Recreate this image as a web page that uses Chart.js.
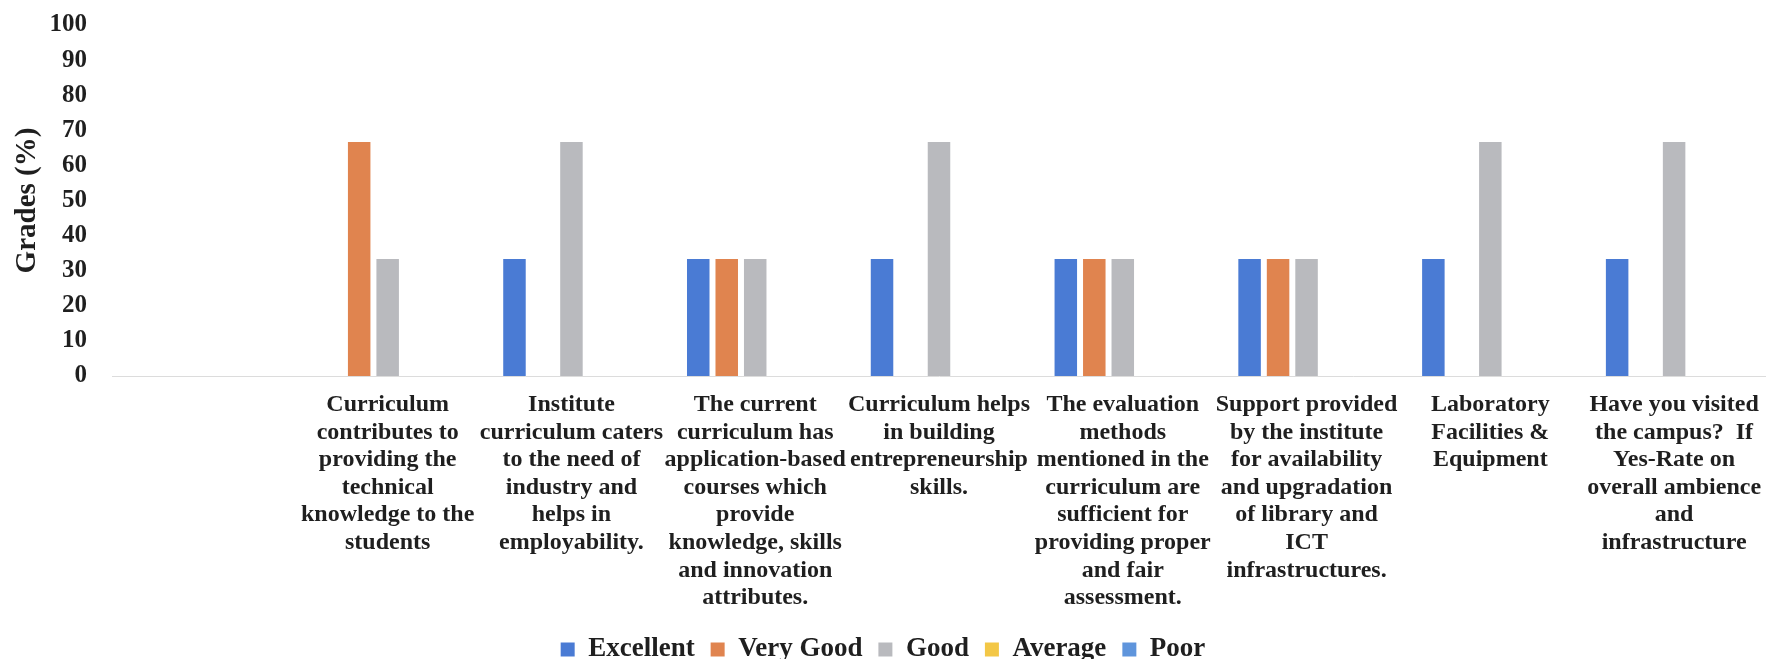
<!DOCTYPE html>
<html>
<head>
<meta charset="utf-8">
<script src="https://cdn.jsdelivr.net/npm/chart.js@4"></script>
<style>
  html, body { margin: 0; padding: 0; background: #fff; overflow: hidden; }
  #wrap { width: 1766px; height: 659px; }
</style>
</head>
<body>
<div id="wrap"><canvas id="gradesChart"></canvas></div>
<script>
// categories (first slot is empty in the original)
const categories = [
    [''],
    ['Curriculum', 'contributes to', 'providing the', 'technical', 'knowledge to the', 'students'],
    ['Institute', 'curriculum caters', 'to the need of', 'industry and', 'helps in', 'employability.'],
    ['The current', 'curriculum has', 'application-based', 'courses which', 'provide', 'knowledge, skills', 'and innovation', 'attributes.'],
    ['Curriculum helps', 'in building', 'entrepreneurship', 'skills.'],
    ['The evaluation', 'methods', 'mentioned in the', 'curriculum are', 'sufficient for', 'providing proper', 'and fair', 'assessment.'],
    ['Support provided', 'by the institute', 'for availability', 'and upgradation', 'of library and', 'ICT', 'infrastructures.'],
    ['Laboratory', 'Facilities &', 'Equipment'],
    ['Have you visited', 'the campus?  If', 'Yes-Rate on', 'overall ambience', 'and', 'infrastructure']
];

const excellent = [null, null, 33.33, 33.33, 33.33, 33.33, 33.33, 33.33, 33.33];
const veryGood  = [null, 66.67, null, 33.33, null, 33.33, 33.33, null, null];
const good      = [null, 33.33, 66.67, 33.33, 66.67, 33.33, 33.33, 66.67, 66.67];
const average   = [null, null, null, null, null, null, null, null, null];
const poor      = [null, null, null, null, null, null, null, null, null];

const yTicks = [0, 10, 20, 30, 40, 50, 60, 70, 80, 90, 100];

const serif = "'Liberation Serif', 'Times New Roman', serif";
const textColor = '#1f1f1f';

const ctx = document.getElementById('gradesChart').getContext('2d');
const gradesChart = new Chart(ctx, {
    type: 'bar',
    data: {
        labels: categories,
        datasets: [
            { label: 'Excellent', data: excellent, backgroundColor: '#4a7bd4' },
            { label: 'Very Good', data: veryGood, backgroundColor: '#e0844f' },
            { label: 'Good', data: good, backgroundColor: '#b9babe' },
            { label: 'Average', data: average, backgroundColor: '#f3c746' },
            { label: 'Poor', data: poor, backgroundColor: '#5f95dc' }
        ]
    },
    options: {
        responsive: true,
        maintainAspectRatio: false,
        animation: false,
        datasets: {
            bar: {
                categoryPercentage: 0.775,
                barPercentage: 0.79
            }
        },
        layout: {
            padding: { top: 25, right: 0, bottom: -14, left: 0 }
        },
        scales: {
            x: {
                afterFit: function(scale) {
                    scale.height = 244;
                    scale.paddingLeft = 0;
                    scale.paddingRight = 0;
                },
                grid: { display: false, drawTicks: false },
                border: { display: true, color: '#dcdcdc', width: 1 },
                ticks: {
                    autoSkip: false,
                    maxRotation: 0,
                    minRotation: 0,
                    padding: 15,
                    color: textColor,
                    font: { family: serif, size: 24, weight: 'bold', lineHeight: '27.6px' }
                }
            },
            y: {
                min: 0,
                max: 100,
                afterFit: function(scale) {
                    scale.width = 112;
                    scale.paddingTop = 0;
                    scale.paddingBottom = 0;
                },
                grid: { display: false, drawTicks: false },
                border: { display: false },
                ticks: {
                    autoSkip: false,
                    stepSize: 10,
                    padding: 25,
                    color: textColor,
                    font: { family: serif, size: 25, weight: 'bold' }
                },
                afterBuildTicks: function(scale) {
                    scale.ticks = yTicks.map(v => ({ value: v }));
                },
                title: {
                    display: true,
                    text: 'Grades (%)',
                    color: textColor,
                    padding: { top: 10, bottom: 0 },
                    font: { family: serif, size: 29, weight: 'bold' }
                }
            }
        },
        plugins: {
            legend: {
                position: 'bottom',
                labels: {
                    boxWidth: 14,
                    boxHeight: 14,
                    padding: 16,
                    color: textColor,
                    font: { family: serif, size: 27, weight: 'bold' }
                }
            },
            tooltip: { enabled: false }
        }
    }
});
</script>
</body>
</html>
